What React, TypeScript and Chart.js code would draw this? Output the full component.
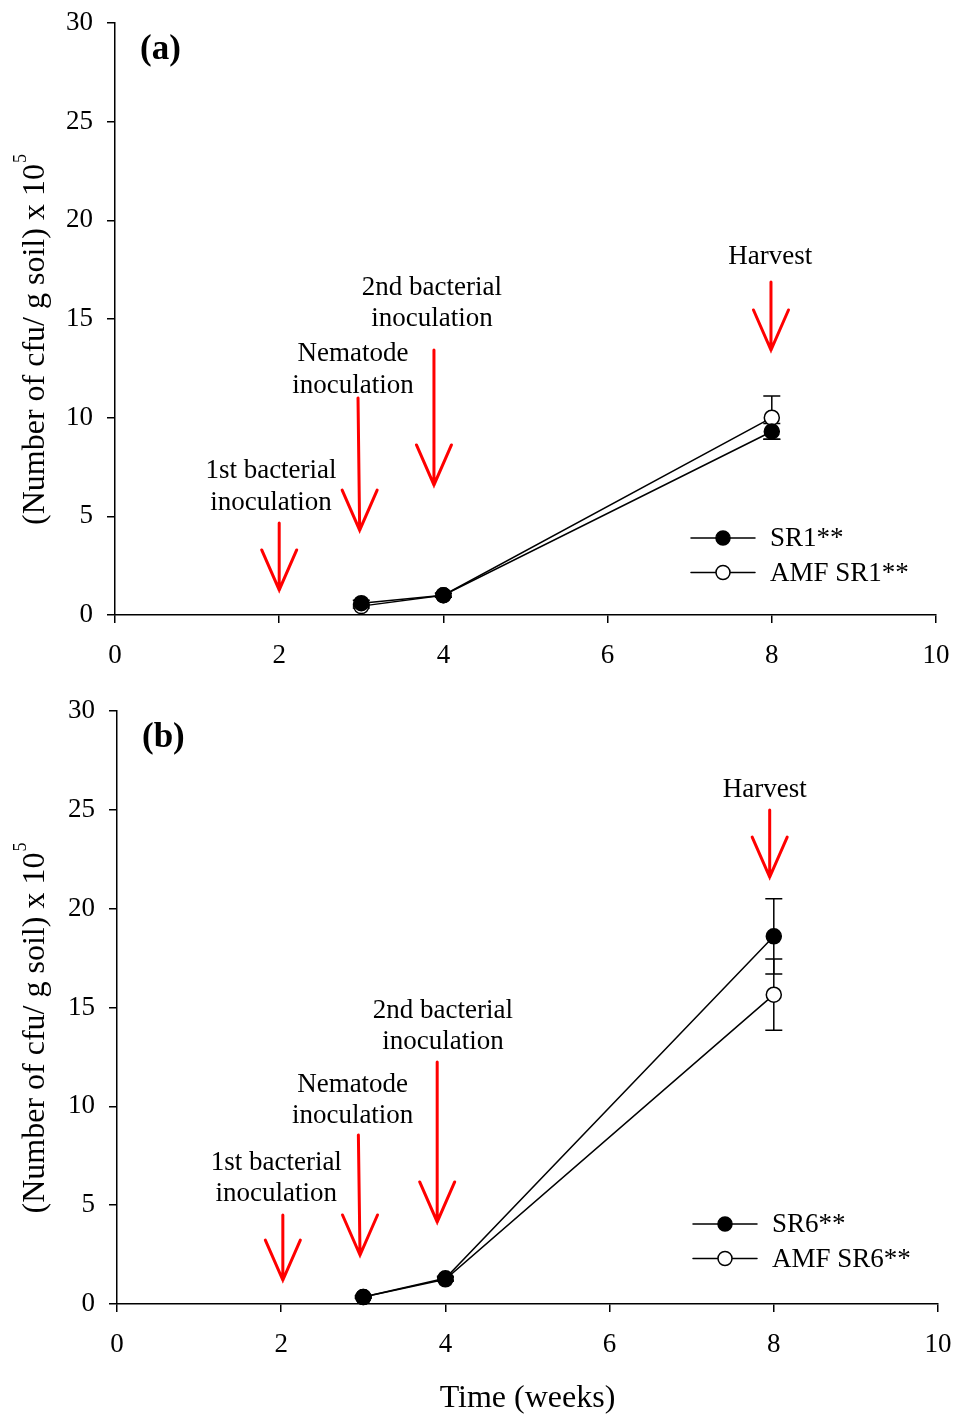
import React, { useEffect, useRef } from "react";
import { Chart, registerables } from "chart.js";

Chart.register(...registerables);

const weeks = [3, 4, 8];
const xTicks = [0, 2, 4, 6, 8, 10];
const yTicks = [0, 5, 10, 15, 20, 25, 30];

const sr1 = [0.6, 1.0, 9.3];
const sr1Err = [0.15, 0.1, 0.4];
const amfSr1 = [0.45, 1.0, 10.0];
const amfSr1Err = [0.1, 0.1, 1.1];

const sr6 = [0.35, 1.3, 18.6];
const sr6Err = [0.05, 0.1, 1.9];
const amfSr6 = [0.35, 1.25, 15.65];
const amfSr6Err = [0.05, 0.1, 1.8];

const labelsA = ["SR1**", "AMF SR1**"];
const labelsB = ["SR6**", "AMF SR6**"];

const eventTexts = [
  ["1st bacterial", "inoculation"],
  ["Nematode", "inoculation"],
  ["2nd bacterial", "inoculation"],
  ["Harvest"],
];
// annotation placement in data units: text centre x, first-line y; arrow tail (x,y), tip (x,y)
const textPosA = [[1.9, 7.3], [2.9, 13.22], [3.86, 16.6], [7.98, 18.13]];
const arrowsA = [[2.0, 4.66, 2.0, 1.27], [2.96, 11.0, 2.98, 4.3], [3.885, 13.43, 3.885, 6.59], [7.99, 16.88, 7.99, 13.43]];
const textPosB = [[1.94, 7.15], [2.87, 11.1], [3.97, 14.85], [7.89, 26.03]];
const arrowsB = [[2.02, 4.5, 2.02, 1.21], [2.94, 8.55, 2.96, 2.48], [3.9, 12.24, 3.9, 4.15], [7.95, 24.99, 7.95, 21.6]];

const FONT = "'Liberation Serif', 'Times New Roman', serif";

type PanelCfg = {
  tag: string;
  s1: number[]; e1: number[]; s2: number[]; e2: number[];
  names: string[];
  textPos: number[][]; arrows: number[][];
  pad: { left: number; right: number; top: number };
  xAxisH: number;
  showXTitle: boolean;
  legendPx: { x0: number; y0: number };
};

function makeChart(canvas: HTMLCanvasElement, cfg: PanelCfg) {
  const overlay = {
    id: "overlay",
    afterDatasetsDraw(chart: any) {
      const ctx = chart.ctx as CanvasRenderingContext2D;
      const xs = chart.scales.x;
      const ys = chart.scales.y;
      ctx.save();
      const drawErr = (vals: number[], errs: number[]) => {
        ctx.strokeStyle = "#000";
        ctx.lineWidth = 1.5;
        vals.forEach((v, i) => {
          const px = xs.getPixelForValue(weeks[i]);
          const top = ys.getPixelForValue(v + errs[i]);
          const bot = ys.getPixelForValue(v - errs[i]);
          ctx.beginPath();
          ctx.moveTo(px, top); ctx.lineTo(px, bot);
          ctx.moveTo(px - 8.5, top); ctx.lineTo(px + 8.5, top);
          ctx.moveTo(px - 8.5, bot); ctx.lineTo(px + 8.5, bot);
          ctx.stroke();
        });
      };
      drawErr(cfg.s1, cfg.e1);
      drawErr(cfg.s2, cfg.e2);
      ctx.restore();
    },
    afterDraw(chart: any) {
      const ctx = chart.ctx as CanvasRenderingContext2D;
      const xs = chart.scales.x;
      const ys = chart.scales.y;
      const area = chart.chartArea;
      ctx.save();
      const drawPts = (vals: number[], fill: string) => {
        vals.forEach((v, i) => {
          const px = xs.getPixelForValue(weeks[i]);
          const py = ys.getPixelForValue(v);
          ctx.beginPath();
          ctx.arc(px, py, 7.5, 0, Math.PI * 2);
          ctx.fillStyle = fill;
          ctx.fill();
          ctx.lineWidth = 1.5;
          ctx.strokeStyle = "#000";
          ctx.stroke();
        });
      };
      drawPts(cfg.s2, "#fff");
      drawPts(cfg.s1, "#000");
      // annotations
      ctx.fillStyle = "#000";
      ctx.font = `27px ${FONT}`;
      ctx.textAlign = "center";
      ctx.textBaseline = "middle";
      eventTexts.forEach((lines, i) => {
        const tx = xs.getPixelForValue(cfg.textPos[i][0]);
        const ty = ys.getPixelForValue(cfg.textPos[i][1]);
        lines.forEach((l, j) => ctx.fillText(l, tx, ty + j * 31.5));
      });
      ctx.strokeStyle = "#ff0000";
      ctx.lineWidth = 3;
      ctx.lineCap = "round";
      cfg.arrows.forEach((a) => {
        const x1 = xs.getPixelForValue(a[0]);
        const y1 = ys.getPixelForValue(a[1]);
        const x2 = xs.getPixelForValue(a[2]);
        const y2 = ys.getPixelForValue(a[3]);
        ctx.beginPath();
        ctx.moveTo(x1, y1); ctx.lineTo(x2, y2);
        ctx.moveTo(x2 - 17.5, y2 - 40); ctx.lineTo(x2, y2); ctx.lineTo(x2 + 17.5, y2 - 40);
        ctx.stroke();
      });
      // panel tag
      ctx.fillStyle = "#000";
      ctx.font = `bold 35px ${FONT}`;
      ctx.textAlign = "left";
      ctx.fillText(cfg.tag, area.left + 25, area.top + 27);
      // legend
      const { x0, y0 } = cfg.legendPx;
      const fills = ["#000", "#fff"];
      cfg.names.forEach((n, i) => {
        const y = y0 + i * 34.5;
        ctx.strokeStyle = "#000";
        ctx.lineWidth = 1.5;
        ctx.beginPath();
        ctx.moveTo(x0, y); ctx.lineTo(x0 + 64, y);
        ctx.stroke();
        ctx.beginPath();
        ctx.arc(x0 + 32, y, 7, 0, Math.PI * 2);
        ctx.fillStyle = fills[i];
        ctx.fill();
        ctx.stroke();
        ctx.fillStyle = "#000";
        ctx.font = `27px ${FONT}`;
        ctx.textAlign = "left";
        ctx.fillText(n, x0 + 79, y + 1);
      });
      // y axis title with superscript
      const cy = (area.top + area.bottom) / 2 + 21;
      ctx.translate(36, cy);
      ctx.rotate(-Math.PI / 2);
      ctx.font = `32px ${FONT}`;
      const main = "(Number of cfu/ g soil) x 10";
      const w = ctx.measureText(main).width;
      ctx.font = `18px ${FONT}`;
      const ws = ctx.measureText("5").width;
      const start = -(w + ws) / 2;
      ctx.font = `32px ${FONT}`;
      ctx.textAlign = "left";
      ctx.textBaseline = "middle";
      ctx.fillText(main, start, 0);
      ctx.font = `18px ${FONT}`;
      ctx.fillText("5", start + w + 1, -15);
      ctx.restore();
    },
  };

  return new Chart(canvas, {
    type: "line",
    data: {
      datasets: [
        {
          label: cfg.names[0],
          data: weeks.map((w, i) => ({ x: w, y: cfg.s1[i] })),
          borderColor: "#000",
          borderWidth: 1.5,
          pointRadius: 0,
          backgroundColor: "#000",
        },
        {
          label: cfg.names[1],
          data: weeks.map((w, i) => ({ x: w, y: cfg.s2[i] })),
          borderColor: "#000",
          borderWidth: 1.5,
          pointRadius: 0,
          backgroundColor: "#fff",
        },
      ],
    },
    options: {
      animation: false,
      responsive: false,
      maintainAspectRatio: false,
      layout: { padding: { left: 0, right: cfg.pad.right, top: cfg.pad.top, bottom: 0 } },
      plugins: { legend: { display: false }, tooltip: { enabled: false } },
      scales: {
        x: {
          type: "linear",
          min: 0,
          max: 10,
          afterBuildTicks: (s: any) => { s.ticks = xTicks.map((v) => ({ value: v })); },
          afterFit: (s: any) => { s.height = cfg.xAxisH; s.paddingLeft = 0; s.paddingRight = 0; },
          ticks: { color: "#000", font: { family: FONT, size: 27 }, padding: 17, maxRotation: 0 },
          grid: { drawOnChartArea: false, drawTicks: true, tickLength: 8, color: "#000", lineWidth: 1.5 },
          border: { display: true, color: "#000", width: 1.5 },
          title: {
            display: cfg.showXTitle,
            text: "Time (weeks)",
            color: "#000",
            font: { family: FONT, size: 32 },
            padding: { top: 15, bottom: -4 },
          },
        },
        y: {
          type: "linear",
          min: 0,
          max: 30,
          afterBuildTicks: (s: any) => { s.ticks = yTicks.map((v) => ({ value: v })); },
          afterFit: (s: any) => { s.width = cfg.pad.left; s.paddingTop = 0; s.paddingBottom = 0; },
          ticks: { color: "#000", font: { family: FONT, size: 27 }, padding: 14 },
          grid: { drawOnChartArea: false, drawTicks: true, tickLength: 8, color: "#000", lineWidth: 1.5 },
          border: { display: true, color: "#000", width: 1.5 },
        },
      },
    },
    plugins: [overlay],
  } as any);
}

export default function App() {
  const refA = useRef<HTMLCanvasElement>(null);
  const refB = useRef<HTMLCanvasElement>(null);
  useEffect(() => {
    document.body.style.margin = "0";
    const a = makeChart(refA.current!, {
      tag: "(a)",
      s1: sr1, e1: sr1Err, s2: amfSr1, e2: amfSr1Err,
      names: labelsA,
      textPos: textPosA, arrows: arrowsA,
      pad: { left: 115, right: 18, top: 23 },
      xAxisH: 690 - 615,
      showXTitle: false,
      legendPx: { x0: 691, y0: 538 },
    });
    const b = makeChart(refB.current!, {
      tag: "(b)",
      s1: sr6, e1: sr6Err, s2: amfSr6, e2: amfSr6Err,
      names: labelsB,
      textPos: textPosB, arrows: arrowsB,
      pad: { left: 117, right: 16, top: 21 },
      xAxisH: 724 - 614,
      showXTitle: true,
      legendPx: { x0: 693, y0: 1224 - 690 },
    });
    return () => { a.destroy(); b.destroy(); };
  }, []);
  return (
    <div style={{ position: "relative", width: 954, height: 1414, background: "#fff" }}>
      <canvas ref={refA} width={954} height={690} style={{ position: "absolute", left: 0, top: 0 }} />
      <canvas ref={refB} width={954} height={724} style={{ position: "absolute", left: 0, top: 690 }} />
    </div>
  );
}
